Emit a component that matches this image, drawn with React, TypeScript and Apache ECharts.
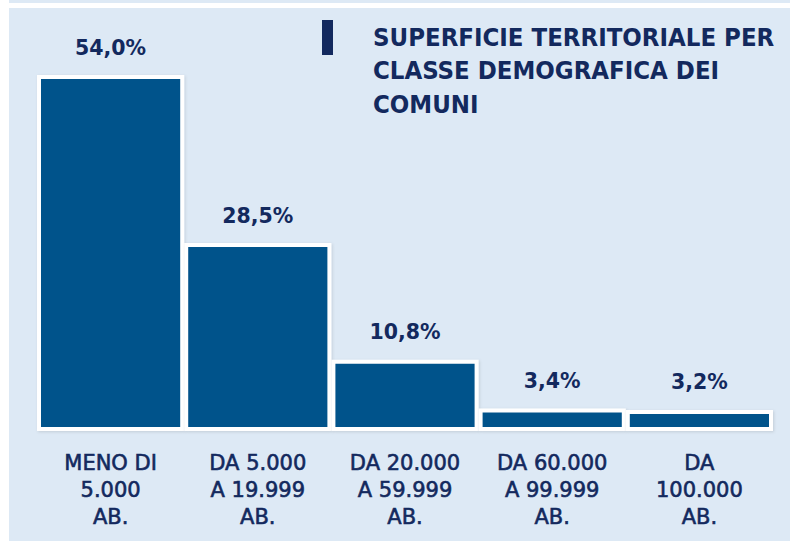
import React, { useEffect, useRef } from "react";
import * as echarts from "echarts";

const categories = [
  "MENO DI\n5.000\nAB.",
  "DA 5.000\nA 19.999\nAB.",
  "DA 20.000\nA 59.999\nAB.",
  "DA 60.000\nA 99.999\nAB.",
  "DA\n100.000\nAB.",
];
const values = [54.0, 28.5, 10.8, 3.4, 3.2];
const titleText = "SUPERFICIE TERRITORIALE PER\nCLASSE DEMOGRAFICA DEI\nCOMUNI";

const NAVY = "#13295e";
const BAR = "#02538b";
const PANEL = "#dde9f5";

export default function App() {
  const ref = useRef<HTMLDivElement>(null);
  useEffect(() => {
    document.body.style.margin = "0";
    const chart = echarts.init(ref.current!, null, { renderer: "svg" });
    chart.setOption({
      animation: false,
      backgroundColor: "#ffffff",
      title: {
        text: titleText,
        left: 373,
        top: 20,
        padding: 0,
        textStyle: {
          fontFamily: "'DejaVu Sans Condensed', Roboto, sans-serif",
          fontWeight: "bold",
          fontSize: 25.5,
          lineHeight: 33.5,
          color: NAVY,
        },
      },
      graphic: [
        { type: "rect", z: -10, shape: { x: 9, y: 0, width: 781, height: 3 }, style: { fill: PANEL } },
        { type: "rect", z: -10, shape: { x: 9, y: 8, width: 781, height: 533 }, style: { fill: PANEL } },
        { type: "rect", shape: { x: 322, y: 20, width: 11, height: 35 }, style: { fill: NAVY } },
      ],
      grid: { left: 37, right: 17, top: 75, bottom: 110 },
      xAxis: {
        type: "category",
        data: categories,
        axisLine: { show: false },
        axisTick: { show: false },
        axisLabel: {
          interval: 0,
          margin: 18,
          fontFamily: "DejaVu Sans",
          fontSize: 21,
          lineHeight: 27,
          color: NAVY,
          textBorderColor: NAVY,
          textBorderWidth: 0.6,
        },
      },
      yAxis: {
        type: "value",
        min: 0,
        max: 54,
        show: false,
        splitLine: { show: false },
      },
      series: [
        {
          type: "bar",
          data: values,
          barWidth: "100%",
          itemStyle: {
            color: BAR,
            borderColor: "#ffffff",
            borderWidth: 4,
            shadowBlur: 3,
            shadowOffsetX: 1,
            shadowOffsetY: 1,
            shadowColor: "rgba(0,0,0,0.12)",
          },
          label: {
            show: true,
            position: "top",
            distance: 17,
            fontFamily: "DejaVu Sans",
            fontWeight: "bold",
            fontSize: 20.5,
            color: NAVY,
            formatter: (p: any) => p.value.toFixed(1).replace(".", ",") + "%",
          },
        },
      ],
    });
    return () => chart.dispose();
  }, []);
  return <div ref={ref} style={{ width: 790, height: 541 }} />;
}
